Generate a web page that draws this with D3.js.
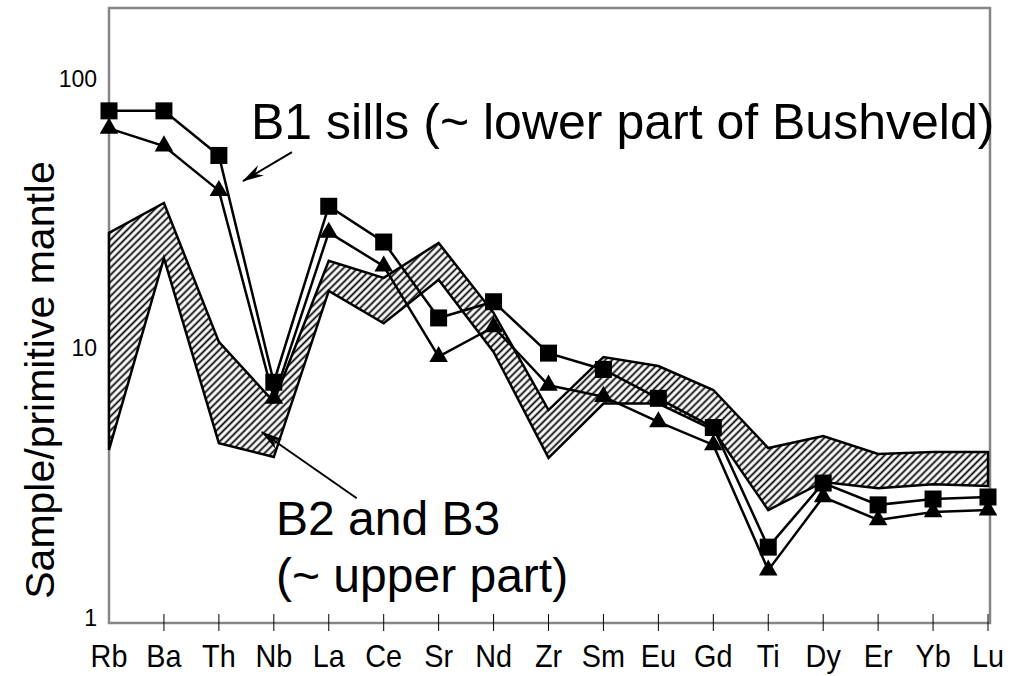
<!DOCTYPE html>
<html>
<head>
  <meta charset="utf-8">
  <script src="https://d3js.org/d3.v7.min.js"></script>
  <style>
    body { margin: 0; background: #fff; }
    text { font-family: "Liberation Sans", Arial, sans-serif; fill: #000; }
  </style>
</head>
<body>
  <script type="text/javascript">
    // Elements on the x axis
    var elements = ["Rb", "Ba", "Th", "Nb", "La", "Ce", "Sr", "Nd", "Zr",
                    "Sm", "Eu", "Gd", "Ti", "Dy", "Er", "Yb", "Lu"];

    // B1 sills, two samples (squares and triangles)
    var b1Squares   = [79, 79, 54, 7.8, 35, 25.8, 13.5, 15.5, 10.0,
                       8.7, 6.8, 5.3, 1.91, 3.3, 2.74, 2.88, 2.93];
    var b1Triangles = [68, 58.5, 40, 6.8, 28, 21, 9.7, 12.5, 7.6,
                       6.9, 5.56, 4.57, 1.57, 2.93, 2.41, 2.58, 2.62];

    // B2 and B3 range (hatched field)
    var bandUpper = [27.9, 36, 11.0, 6.6, 22, 19, 25.6, 14.1, 6.15,
                     9.67, 8.96, 7.3, 4.45, 4.93, 4.23, 4.3, 4.3];
    var bandLower = [4.38, 22.5, 4.64, 4.12, 17, 12.9, 18.7, 10.1, 4.09,
                     6.5, 6.5, 5.19, 2.62, 3.33, 3.16, 3.27, 3.22];

    // Y axis tick labels
    var yTicks = [1, 10, 100];

    var width = 1014, height = 676;
    var svg = d3.select("body").append("svg")
      .attr("width", width)
      .attr("height", height);

    var x = d3.scalePoint().domain(elements).range([109, 988]);
    var y = d3.scaleLog().domain([1, 190]).range([623, 8]);

    // position helper for annotations (fractional element index)
    function px(i) { return x(elements[0]) + i * x.step(); }

    // Hatch pattern
    var defs = svg.append("defs");
    var pat = defs.append("pattern")
      .attr("id", "hatch")
      .attr("patternUnits", "userSpaceOnUse")
      .attr("width", 5)
      .attr("height", 5)
      .attr("patternTransform", "rotate(45)");
    pat.append("rect").attr("width", 5).attr("height", 5).attr("fill", "#fff");
    pat.append("line")
      .attr("x1", 2.5).attr("y1", 0).attr("x2", 2.5).attr("y2", 5)
      .attr("stroke", "#000")
      .attr("stroke-width", 1.8);

    defs.append("marker")
      .attr("id", "arrow")
      .attr("viewBox", "0 0 22 12")
      .attr("refX", 21)
      .attr("refY", 6)
      .attr("markerUnits", "userSpaceOnUse")
      .attr("markerWidth", 22)
      .attr("markerHeight", 12)
      .attr("orient", "auto")
      .append("path")
      .attr("d", "M0,0 L22,6 L0,12 L7,6 Z")
      .attr("fill", "#000");

    // Frame
    svg.append("rect")
      .attr("x", x("Rb"))
      .attr("y", y.range()[1])
      .attr("width", x("Lu") + 2 - x("Rb"))
      .attr("height", y.range()[0] - y.range()[1])
      .attr("fill", "none")
      .attr("stroke", "#868686")
      .attr("stroke-width", 2.5);

    // X ticks
    svg.append("g")
      .selectAll("line")
      .data(elements.slice(1))
      .enter()
      .append("line")
      .attr("x1", function(d) { return x(d); })
      .attr("x2", function(d) { return x(d); })
      .attr("y1", y(1) - 9)
      .attr("y2", y(1) + 8)
      .attr("stroke", "#000")
      .attr("stroke-width", 1);

    // X labels (slightly condensed like the original)
    svg.append("g")
      .selectAll("text")
      .data(elements)
      .enter()
      .append("text")
      .attr("transform", function(d) { return "translate(" + x(d) + ",667) scale(0.9,1)"; })
      .attr("text-anchor", "middle")
      .style("font-size", "32px")
      .text(function(d) { return d; });

    // Y labels
    svg.append("g")
      .selectAll("text")
      .data(yTicks)
      .enter()
      .append("text")
      .attr("x", 97)
      .attr("y", function(d) { return y(d) - 5; })
      .attr("dy", "0.36em")
      .attr("text-anchor", "end")
      .style("font-size", "23px")
      .text(function(d) { return d; });

    // Y axis title
    svg.append("text")
      .attr("transform", "translate(54,380) rotate(-90)")
      .attr("text-anchor", "middle")
      .style("font-size", "41px")
      .text("Sample/primitive mantle");

    // Hatched field for B2 and B3
    var bandPts = elements.map(function(d, i) { return [x(d), y(bandUpper[i])]; })
      .concat(elements.map(function(d, i) { return [x(d), y(bandLower[i])]; }).reverse());
    svg.append("path")
      .attr("d", d3.line()(bandPts) + "Z")
      .attr("fill", "url(#hatch)")
      .attr("stroke", "#000")
      .attr("stroke-width", 2.5);

    // B1 lines and markers
    var line = d3.line()
      .x(function(d, i) { return x(elements[i]); })
      .y(function(d) { return y(d); });

    [b1Triangles, b1Squares].forEach(function(series) {
      svg.append("path")
        .attr("d", line(series))
        .attr("fill", "none")
        .attr("stroke", "#000")
        .attr("stroke-width", 2.5);
    });

    svg.append("g")
      .selectAll("path")
      .data(b1Triangles)
      .enter()
      .append("path")
      .attr("transform", function(d, i) { return "translate(" + x(elements[i]) + "," + y(d) + ")"; })
      .attr("d", d3.symbol().type(d3.symbolTriangle).size(150))
      .attr("fill", "#000");

    svg.append("g")
      .selectAll("rect")
      .data(b1Squares)
      .enter()
      .append("rect")
      .attr("x", function(d, i) { return x(elements[i]) - 8.5; })
      .attr("y", function(d) { return y(d) - 8.5; })
      .attr("width", 17)
      .attr("height", 17)
      .attr("fill", "#000");

    // Annotations
    svg.append("text")
      .attr("x", 251)
      .attr("y", 139)
      .style("font-size", "50px")
      .text("B1 sills (~ lower part of Bushveld)");

    svg.append("line")
      .attr("x1", px(3.33)).attr("y1", y(55.6))
      .attr("x2", px(2.44)).attr("y2", y(43.4))
      .attr("stroke", "#000")
      .attr("stroke-width", 2)
      .attr("marker-end", "url(#arrow)");

    svg.append("text")
      .attr("x", 276)
      .attr("y", 535)
      .style("font-size", "48px")
      .text("B2 and B3");

    svg.append("text")
      .attr("x", 276)
      .attr("y", 592)
      .style("font-size", "48px")
      .text("(~ upper part)");

    svg.append("line")
      .attr("x1", px(4.51)).attr("y1", y(2.9))
      .attr("x2", px(2.78)).attr("y2", y(5.1))
      .attr("stroke", "#000")
      .attr("stroke-width", 2)
      .attr("marker-end", "url(#arrow)");
  </script>
</body>
</html>
